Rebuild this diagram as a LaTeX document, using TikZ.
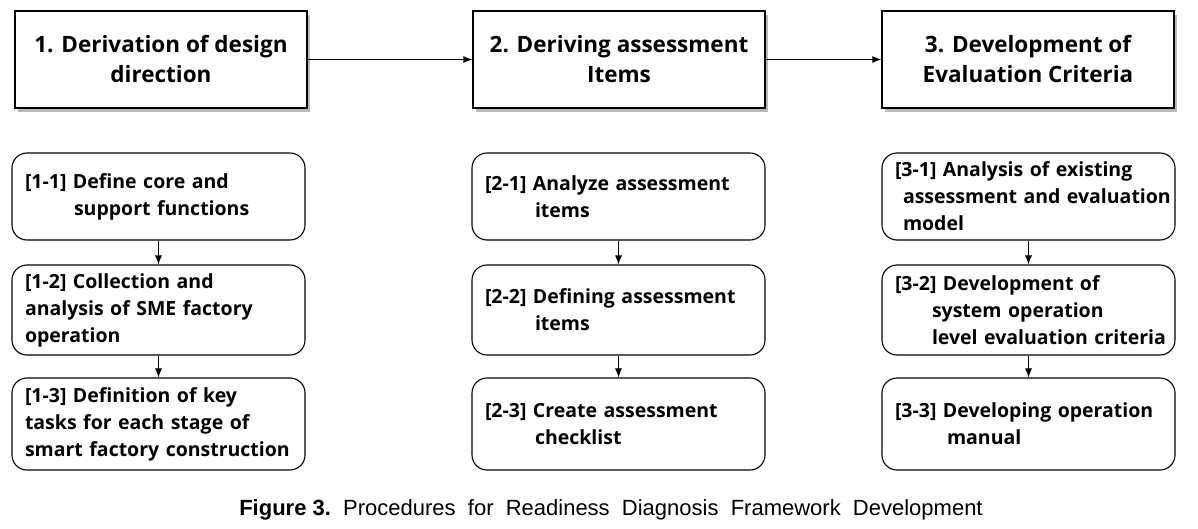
\documentclass[tikz,border=0pt]{standalone}
\usepackage{fontspec}
\setmainfont{Liberation Sans}
\newfontfamily\boxfont{Open Sans}
\usetikzlibrary{shadows,arrows.meta}

\begin{document}
\begin{tikzpicture}[x=1pt, y=-1pt,
        stage/.style = {draw, fill=white, line width=1.3pt, minimum width=292pt, minimum height=97pt,
            align=center, font=\boxfont\bfseries\fontsize{22.5}{30}\selectfont,
            drop shadow={shadow xshift=3pt, shadow yshift=-4pt, opacity=.6, fill=black!45}},
        task/.style = {draw, line width=1.1pt, rounded corners=15pt, minimum width=293pt, text width=267pt,
            inner xsep=13pt, align=left, font=\boxfont\bfseries\fontsize{19.5}{27}\selectfont},
        flow/.style = {line width=1pt, -{Latex[length=9pt,width=7pt]}}
    ]
        \useasboundingbox (0,0) rectangle (1198,529);
        % top row
        \node[stage] (s1) at (161,59.5) {1. Derivation of design\\direction};
        \node[stage] (s2) at (619,59.5) {2. Deriving assessment\\Items};
        \node[stage] (s3) at (1028,59.5) {3. Development of\\Evaluation Criteria};
        \draw[flow] (s1) -- (s2);
        \draw[flow] (s2) -- (s3);
        % column 1
        \node[task, minimum height=87pt] (t11) at (158.5,196.5) {[1-1] Define core and\\\hspace*{49pt}support functions};
        \node[task, minimum height=90pt] (t12) at (158.5,310) {[1-2] Collection and\\analysis of SME factory\\operation};
        \node[task, minimum height=92pt] (t13) at (158.5,424) {[1-3] Definition of key\\tasks for each stage of\\\mbox{smart factory construction}};
        % column 2
        \node[task, minimum height=87pt] (t21) at (618.5,196.5) {[2-1] Analyze assessment\\\hspace*{50pt}items};
        \node[task, minimum height=90pt] (t22) at (618.5,310) {[2-2] Defining assessment\\\hspace*{50pt}items};
        \node[task, minimum height=92pt] (t23) at (618.5,424) {[2-3] Create assessment\\\hspace*{50pt}checklist};
        % column 3
        \node[task, minimum height=87pt] (t31) at (1028.5,196.5) {[3-1] Analysis of existing\\\hspace*{8pt}\mbox{assessment and evaluation}\\\hspace*{8pt}model};
        \node[task, minimum height=90pt] (t32) at (1028.5,310) {[3-2] Development of\\\hspace*{37pt}system operation\\\hspace*{37pt}\mbox{level evaluation criteria}};
        \node[task, minimum height=92pt] (t33) at (1028.5,424) {[3-3] Developing operation\\\hspace*{52pt}manual};
        \foreach \c in {1,2,3} {
            \draw[flow] (t\c1) -- (t\c2);
            \draw[flow] (t\c2) -- (t\c3);
        }
        \node[font=\fontsize{22}{26}\selectfont] (cap) at (611,510)
            {\textbf{Figure 3.}\ \ Procedures\ \ for\ \ Readiness\ \ Diagnosis\ \ Framework\ \ Development};
    \end{tikzpicture}
\end{document}
